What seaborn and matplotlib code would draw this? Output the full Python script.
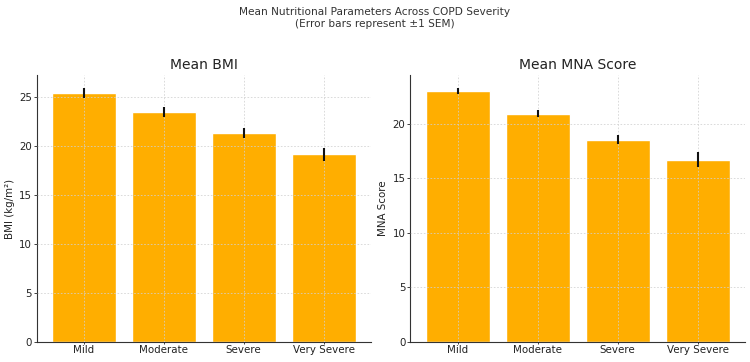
import numpy as np
import pandas as pd
import matplotlib
matplotlib.use("Agg")
import matplotlib.pyplot as plt
import seaborn as sns

# data
severity = ["Mild", "Moderate", "Severe", "Very Severe"]
bmi_mean = [25.4, 23.43, 21.32, 19.15]
bmi_sem = [0.53, 0.50, 0.48, 0.68]
mna_mean = [23.04, 20.95, 18.53, 16.72]
mna_sem = [0.28, 0.32, 0.41, 0.66]

sns.set_theme(style="white")
plt.rcParams['font.family'] = ['DejaVu Sans']
plt.rcParams['font.size'] = 7.4

bar_color = "#FFAE00"

fig = plt.figure(figsize=(7.5, 3.62), dpi=100)
ax1 = fig.add_axes([36.7 / 750, 20 / 362, 334 / 750, 267 / 362])
ax2 = fig.add_axes([410.3 / 750, 20 / 362, 334.7 / 750, 267 / 362])

panels = [
    (ax1, bmi_mean, bmi_sem, "Mean BMI", "BMI (kg/m²)"),
    (ax2, mna_mean, mna_sem, "Mean MNA Score", "MNA Score"),
]

for ax, means, sems, title, ylabel in panels:
    df = pd.DataFrame({"Severity": severity, "Mean": means, "SEM": sems})
    sns.barplot(data=df, x="Severity", y="Mean", color=bar_color,
                saturation=1, width=0.8, errorbar=None, ax=ax)
    ax.errorbar(np.arange(len(severity)), df["Mean"], yerr=df["SEM"],
                fmt="none", ecolor="#111111", elinewidth=1.5, capsize=0, zorder=5)
    ax.set_xlim(-0.59, 3.59)
    ax.set_ylim(0, (df["Mean"] + df["SEM"]).max() * 1.05)
    ax.set_title(title, fontsize=10, color="#222222", pad=4)
    ax.set_xlabel("")
    ax.set_ylabel(ylabel, fontsize=7.4, color="#222222", labelpad=3)
    ax.set_axisbelow(False)
    ax.grid(True, linestyle=(0, (2, 2)), color="#d0d0d0", linewidth=0.6, alpha=0.9)
    for s in ["top", "right"]:
        ax.spines[s].set_visible(False)
    for s in ["left", "bottom"]:
        ax.spines[s].set_color("#333333")
        ax.spines[s].set_linewidth(0.8)
    ax.tick_params(axis="both", labelsize=7.4, colors="#222222", width=0.6,
                   direction="out", left=True, bottom=True)
    ax.tick_params(axis="y", length=2.5, pad=1)
    ax.tick_params(axis="x", length=1.5, pad=1)

fig.suptitle("Mean Nutritional Parameters Across COPD Severity\n(Error bars represent ±1 SEM)",
             fontsize=7.6, color="#333333", y=0.98, linespacing=1.2)

fig.savefig("out.png", dpi=100)
